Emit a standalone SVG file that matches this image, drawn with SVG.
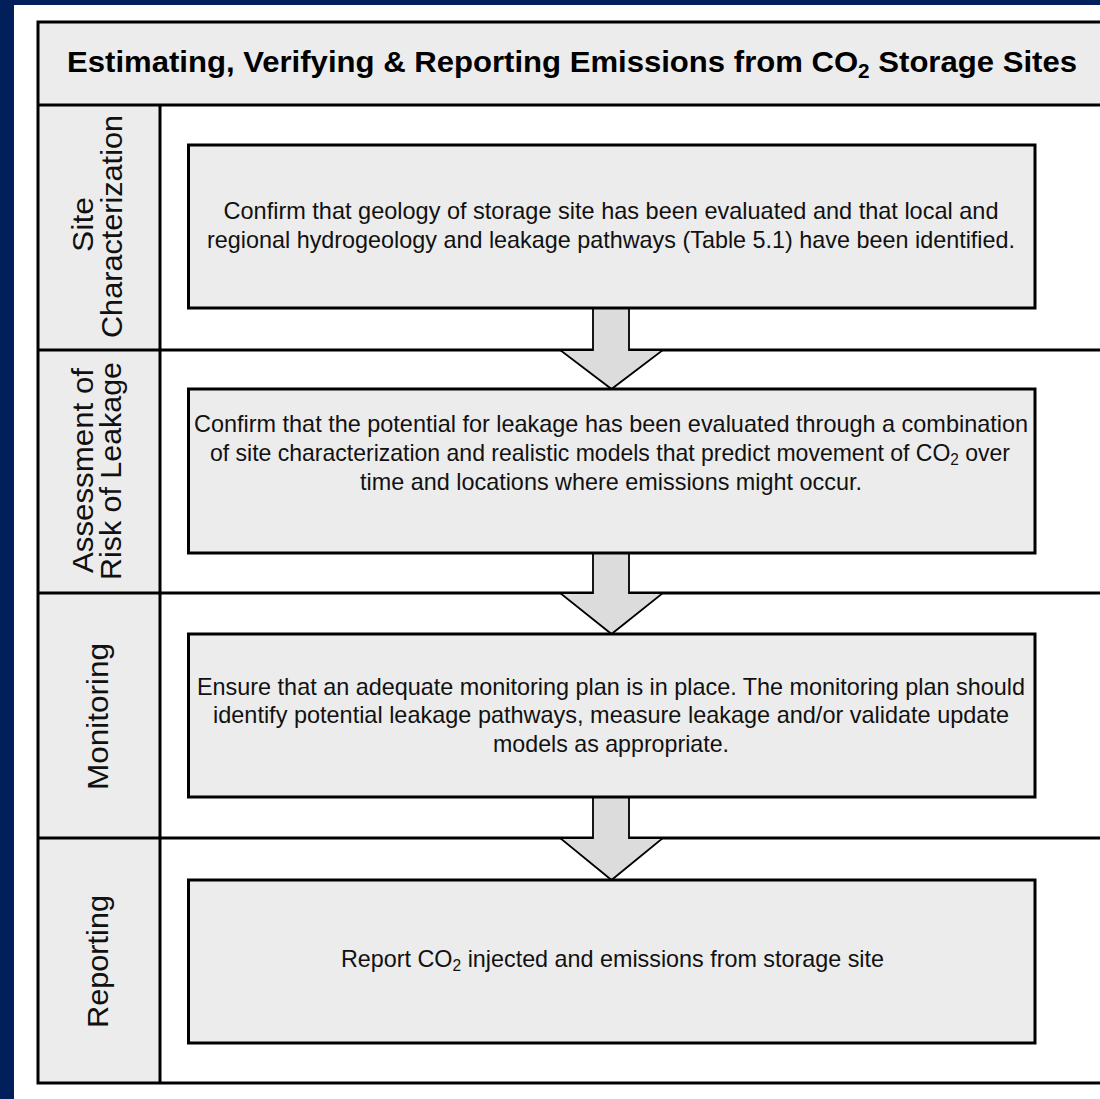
<svg xmlns="http://www.w3.org/2000/svg" width="1100" height="1099" viewBox="0 0 1100 1099">
<style>
.bg{fill:#001f5b}
.panel{fill:#fff}
.shade{fill:#ececec}
.frame{fill:none;stroke:#000;stroke-width:3}
.lane{stroke:#000;stroke-width:3}
.box{fill:#ececec;stroke:#000;stroke-width:3}
.arrow{fill:#dcdcdc;stroke:#000;stroke-width:1.8;stroke-linejoin:miter}
.title{font-family:"Liberation Sans",Arial,sans-serif;font-weight:bold;font-size:30px;fill:#000}
.lbl{font-family:"Liberation Sans",Arial,sans-serif;font-size:30px;fill:#111}
.txt{font-family:"Liberation Sans",Arial,sans-serif;font-size:24px;fill:#111}
.sub{font-size:16px;baseline-shift:-4px}
.tsub{font-size:20px;baseline-shift:-6px}
</style>
<rect class="bg" x="0" y="0" width="1100" height="1099"/>
<rect class="panel" x="14" y="5" width="1090" height="1100"/>
<g id="frame">
  <rect class="shade" x="38" y="22" width="1080" height="83"/>
  <rect class="shade" x="38" y="105" width="122" height="978"/>
  <line class="lane" x1="38" y1="105" x2="1110" y2="105"/>
  <line class="lane" x1="38" y1="350" x2="1110" y2="350"/>
  <line class="lane" x1="38" y1="593" x2="1110" y2="593"/>
  <line class="lane" x1="38" y1="838" x2="1110" y2="838"/>
  <line class="lane" x1="160" y1="105" x2="160" y2="1083"/>
  <rect class="frame" x="38" y="22" width="1080" height="1061"/>
</g>
<g id="title">
  <text class="title" x="572" y="72" text-anchor="middle" textLength="1010" lengthAdjust="spacingAndGlyphs">Estimating, Verifying &amp; Reporting Emissions from CO<tspan class="tsub">2</tspan> Storage Sites</text>
</g>
<g id="lane-site">
  <text class="lbl" transform="translate(93,224.5) rotate(-90)" text-anchor="middle" textLength="55" lengthAdjust="spacingAndGlyphs">Site</text>
  <text class="lbl" transform="translate(122,226.5) rotate(-90)" text-anchor="middle" textLength="223" lengthAdjust="spacingAndGlyphs">Characterization</text>
</g>
<g id="lane-risk">
  <text class="lbl" transform="translate(93,470.5) rotate(-90)" text-anchor="middle" textLength="205" lengthAdjust="spacingAndGlyphs">Assessment of</text>
  <text class="lbl" transform="translate(121,471) rotate(-90)" text-anchor="middle" textLength="218" lengthAdjust="spacingAndGlyphs">Risk of Leakage</text>
</g>
<g id="lane-monitoring">
  <text class="lbl" transform="translate(108,716.5) rotate(-90)" text-anchor="middle" textLength="147" lengthAdjust="spacingAndGlyphs">Monitoring</text>
</g>
<g id="lane-reporting">
  <text class="lbl" transform="translate(108,961.5) rotate(-90)" text-anchor="middle" textLength="133" lengthAdjust="spacingAndGlyphs">Reporting</text>
</g>
<g id="connectors">
  <polygon class="arrow" points="593,308 629,308 629,350 663,350 611.5,389 560,350 593,350"/>
  <polygon class="arrow" points="593,553 629,553 629,593 663,593 611.5,634 560,593 593,593"/>
  <polygon class="arrow" points="593,797 629,797 629,838 663,838 611.5,880 560,838 593,838"/>
</g>
<g id="box-site">
  <rect class="box" x="188.5" y="145" width="846.5" height="163"/>
  <text class="txt" x="611" y="219" text-anchor="middle" textLength="775" lengthAdjust="spacingAndGlyphs">Confirm that geology of storage site has been evaluated and that local and</text>
  <text class="txt" x="611" y="248" text-anchor="middle" textLength="808" lengthAdjust="spacingAndGlyphs">regional hydrogeology and leakage pathways (Table 5.1) have been identified.</text>
</g>
<g id="box-risk">
  <rect class="box" x="188.5" y="389" width="846.5" height="164"/>
  <text class="txt" x="611" y="432" text-anchor="middle" textLength="834" lengthAdjust="spacingAndGlyphs">Confirm that the potential for leakage has been evaluated through a combination</text>
  <text class="txt" x="610" y="461" text-anchor="middle" textLength="800" lengthAdjust="spacingAndGlyphs">of site characterization and realistic models that predict movement of CO<tspan class="sub">2</tspan> over</text>
  <text class="txt" x="611" y="490" text-anchor="middle" textLength="502" lengthAdjust="spacingAndGlyphs">time and locations where emissions might occur.</text>
</g>
<g id="box-monitoring">
  <rect class="box" x="188.5" y="634" width="846.5" height="163"/>
  <text class="txt" x="611" y="695" text-anchor="middle" textLength="828" lengthAdjust="spacingAndGlyphs">Ensure that an adequate monitoring plan is in place. The monitoring plan should</text>
  <text class="txt" x="611" y="723" text-anchor="middle" textLength="796" lengthAdjust="spacingAndGlyphs">identify potential leakage pathways, measure leakage and/or validate update</text>
  <text class="txt" x="611" y="752" text-anchor="middle" textLength="236" lengthAdjust="spacingAndGlyphs">models as appropriate.</text>
</g>
<g id="box-reporting">
  <rect class="box" x="188.5" y="880" width="846.5" height="163"/>
  <text class="txt" x="612.5" y="967" text-anchor="middle" textLength="543" lengthAdjust="spacingAndGlyphs">Report CO<tspan class="sub">2</tspan> injected and emissions from storage site</text>
</g>
</svg>
